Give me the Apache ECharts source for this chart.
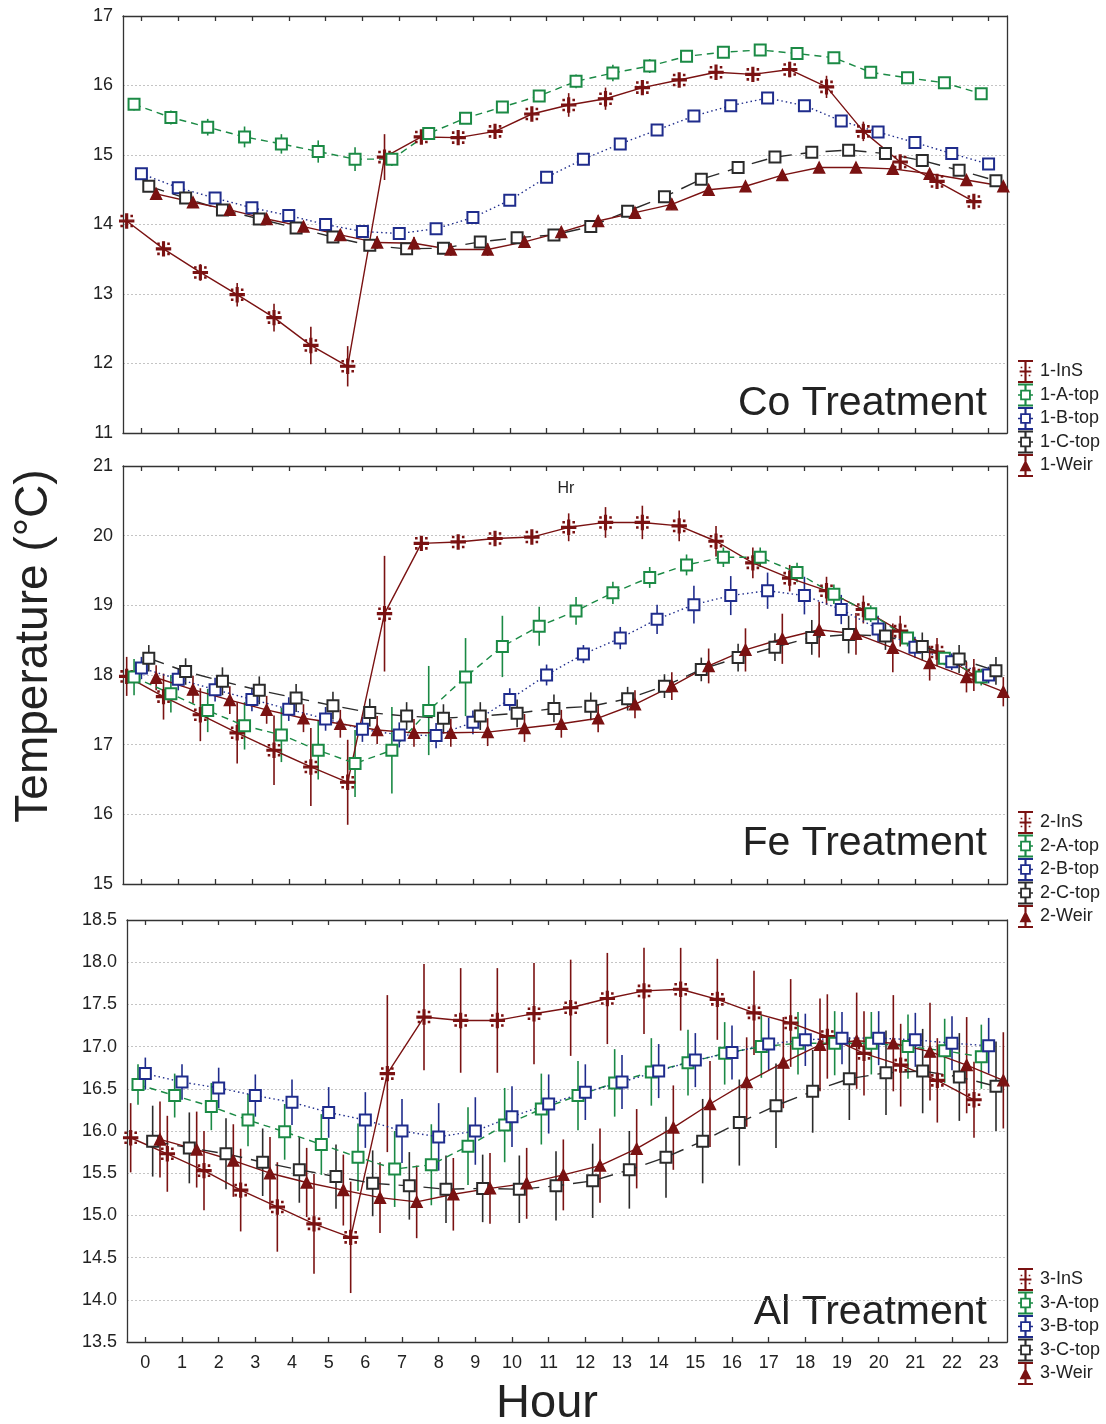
<!DOCTYPE html>
<html><head><meta charset="utf-8">
<script src="https://cdn.jsdelivr.net/npm/echarts@6/dist/echarts.min.js"></script>
<style>html,body{margin:0;padding:0;background:#fff}#c{width:1106px;height:1424px}</style>
</head><body><div id="c"></div>
<script>
const hours = [0,1,2,3,4,5,6,7,8,9,10,11,12,13,14,15,16,17,18,19,20,21,22,23];

// Panel 1 - Co Treatment
const ins1 = [14.05,13.65,13.31,12.99,12.66,12.26,11.96,14.97,15.26,15.25,15.34,15.59,15.72,15.81,15.97,16.08,16.19,16.16,16.23,15.98,15.34,14.90,14.62,14.33];
const ins1Err = [0.07,0.10,0.12,0.17,0.20,0.27,0.29,0.33,0.06,0.06,0.06,0.08,0.17,0.16,0.08,0.07,0.06,0.06,0.11,0.16,0.14,0.08,0.08,0.09];
const a1 = [15.73,15.54,15.40,15.26,15.16,15.05,14.94,14.94,15.31,15.53,15.69,15.85,16.06,16.18,16.28,16.42,16.48,16.51,16.46,16.40,16.19,16.11,16.04,15.88];
const a1Err = [0.09,0.10,0.12,0.15,0.14,0.16,0.17,0.10,0.07,0.05,0.04,0.05,0.10,0.12,0.10,0.05,0.04,0.04,0.06,0.07,0.07,0.06,0.05,0.04];
const b1 = [14.73,14.53,14.38,14.24,14.13,14.00,13.90,13.87,13.94,14.10,14.35,14.68,14.94,15.16,15.36,15.56,15.71,15.82,15.71,15.49,15.33,15.18,15.02,14.87];
const b1Err = [0.06,0.06,0.07,0.07,0.07,0.07,0.07,0.07,0.07,0.06,0.06,0.07,0.05,0.06,0.06,0.06,0.05,0.05,0.04,0.04,0.04,0.04,0.04,0.04];
const c1 = [14.55,14.38,14.21,14.08,13.95,13.82,13.70,13.65,13.66,13.75,13.81,13.85,13.97,14.19,14.40,14.65,14.82,14.97,15.04,15.07,15.02,14.92,14.78,14.63];
const c1Err = [0.06,0.06,0.06,0.06,0.06,0.06,0.07,0.07,0.07,0.07,0.07,0.08,0.08,0.08,0.08,0.06,0.05,0.05,0.05,0.05,0.05,0.05,0.05,0.05];
const w1 = [14.44,14.32,14.21,14.08,13.97,13.85,13.74,13.73,13.64,13.64,13.75,13.89,14.05,14.17,14.29,14.50,14.55,14.71,14.82,14.82,14.80,14.73,14.64,14.55];
const w1Err = [0.05,0.05,0.06,0.06,0.07,0.08,0.09,0.09,0.09,0.09,0.08,0.08,0.08,0.08,0.08,0.07,0.06,0.06,0.05,0.05,0.05,0.05,0.05,0.05];

// Panel 2 - Fe Treatment
const ins2 = [17.98,17.69,17.43,17.17,16.92,16.68,16.46,18.88,19.89,19.91,19.96,19.98,20.12,20.19,20.19,20.14,19.92,19.61,19.39,19.21,18.94,18.63,18.33,18.00];
const ins2Err = [0.28,0.33,0.38,0.44,0.50,0.56,0.61,0.83,0.03,0.04,0.05,0.07,0.20,0.22,0.24,0.22,0.22,0.22,0.19,0.20,0.20,0.22,0.20,0.23];
const a2 = [17.97,17.73,17.49,17.27,17.14,16.92,16.73,16.92,17.49,17.97,18.41,18.70,18.92,19.18,19.40,19.58,19.69,19.69,19.47,19.16,18.88,18.53,18.24,17.97];
const a2Err = [0.26,0.27,0.31,0.34,0.39,0.42,0.48,0.62,0.64,0.56,0.44,0.28,0.20,0.16,0.15,0.15,0.14,0.14,0.14,0.14,0.12,0.12,0.10,0.12];
const b2 = [18.10,17.94,17.79,17.65,17.51,17.37,17.22,17.14,17.13,17.32,17.65,18.00,18.30,18.53,18.80,19.01,19.14,19.21,19.14,18.94,18.66,18.40,18.19,18.00];
const b2Err = [0.16,0.16,0.17,0.17,0.17,0.17,0.18,0.18,0.18,0.17,0.16,0.15,0.13,0.16,0.21,0.27,0.28,0.26,0.27,0.21,0.19,0.15,0.12,0.12];
const c2 = [18.24,18.05,17.91,17.78,17.67,17.56,17.46,17.41,17.38,17.41,17.45,17.52,17.55,17.66,17.84,18.08,18.25,18.40,18.54,18.58,18.56,18.41,18.23,18.06];
const c2Err = [0.19,0.19,0.20,0.20,0.20,0.20,0.20,0.20,0.20,0.20,0.20,0.20,0.20,0.17,0.17,0.17,0.20,0.20,0.25,0.27,0.20,0.20,0.20,0.20];
const w2 = [17.96,17.79,17.64,17.50,17.38,17.30,17.21,17.17,17.17,17.18,17.24,17.30,17.38,17.58,17.84,18.13,18.36,18.52,18.65,18.59,18.39,18.17,17.97,17.76];
const w2Err = [0.18,0.20,0.20,0.20,0.20,0.20,0.20,0.20,0.20,0.20,0.20,0.20,0.20,0.20,0.20,0.25,0.31,0.36,0.40,0.30,0.35,0.25,0.22,0.21];

// Panel 3 - Al Treatment
const ins3 = [15.92,15.73,15.53,15.30,15.10,14.90,14.74,16.68,17.35,17.31,17.31,17.39,17.46,17.57,17.66,17.68,17.56,17.40,17.28,17.12,16.92,16.78,16.60,16.37];
const ins3Err = [0.41,0.45,0.47,0.49,0.53,0.59,0.66,0.93,0.63,0.62,0.62,0.60,0.57,0.54,0.51,0.49,0.48,0.50,0.52,0.50,0.50,0.49,0.50,0.45];
const a3 = [16.55,16.42,16.29,16.13,15.99,15.84,15.69,15.55,15.60,15.82,16.07,16.26,16.42,16.57,16.70,16.81,16.92,17.00,17.04,17.04,17.04,17.00,16.95,16.88];
const a3Err = [0.24,0.26,0.28,0.31,0.33,0.36,0.40,0.45,0.48,0.46,0.44,0.42,0.41,0.40,0.40,0.39,0.37,0.37,0.37,0.38,0.37,0.38,0.38,0.38];
const b3 = [16.68,16.58,16.51,16.42,16.34,16.22,16.13,16.00,15.93,16.00,16.17,16.32,16.46,16.58,16.71,16.84,16.93,17.03,17.08,17.10,17.10,17.08,17.04,17.01];
const b3Err = [0.19,0.21,0.24,0.25,0.27,0.30,0.33,0.38,0.40,0.40,0.36,0.35,0.33,0.32,0.32,0.32,0.32,0.31,0.31,0.31,0.32,0.32,0.32,0.33];
const c3 = [15.88,15.80,15.73,15.63,15.54,15.46,15.38,15.35,15.31,15.32,15.31,15.35,15.41,15.54,15.69,15.88,16.10,16.30,16.47,16.62,16.69,16.71,16.64,16.53];
const c3Err = [0.42,0.42,0.42,0.40,0.39,0.38,0.39,0.40,0.40,0.40,0.40,0.41,0.44,0.46,0.48,0.50,0.51,0.50,0.49,0.49,0.50,0.50,0.52,0.53];
const w3 = [15.90,15.78,15.65,15.50,15.39,15.30,15.21,15.16,15.25,15.32,15.38,15.48,15.59,15.79,16.04,16.32,16.58,16.81,17.02,17.07,17.04,16.94,16.78,16.60];
const w3Err = [0.45,0.45,0.43,0.43,0.41,0.42,0.42,0.43,0.43,0.42,0.42,0.42,0.44,0.47,0.50,0.51,0.53,0.54,0.55,0.57,0.57,0.58,0.57,0.57];

const seriesKeys = ['InS','A-top','B-top','C-top','Weir'];
const panelTitles = ['Co Treatment','Fe Treatment','Al Treatment'];

// ---------- styling / layout ----------
const FONT = 'Liberation Sans, Arial, sans-serif';
const RED = '#7a1212', GREEN = '#1b8a45', BLUE = '#1f2c8c', BLACK = '#2b2b2b';
const insSym = 'path://M5.25,0L6.75,0L6.75,5.25L12,5.25L12,6.75L6.75,6.75L6.75,12L5.25,12L5.25,6.75L0,6.75L0,5.25L5.25,5.25Z M1.2,1.2L2.2,1.2L2.2,2.2L1.2,2.2Z M9.8,1.2L10.8,1.2L10.8,2.2L9.8,2.2Z M1.2,9.8L2.2,9.8L2.2,10.8L1.2,10.8Z M9.8,9.8L10.8,9.8L10.8,10.8L9.8,10.8Z';
const styles = {
  'InS':   {color: RED,   offset: -0.4, symbol: insSym,      size: 14, dash: 'solid'},
  'A-top': {color: GREEN, offset: -0.2, symbol: 'emptyRect', size: 11, dash: [7,5]},
  'B-top': {color: BLUE,  offset: 0,    symbol: 'emptyRect', size: 11, dash: [1.5,3]},
  'C-top': {color: BLACK, offset: 0.2,  symbol: 'emptyRect', size: 11, dash: [16,9]},
  'Weir':  {color: RED,   offset: 0.4,  symbol: 'triangle',  size: 11, dash: 'solid'}
};
// legend icons: error-bar "I" with the marker in the middle (box 14 x 22)
const capsStem = 'M0,0L14,0L14,2L0,2Z M0,20L14,20L14,22L0,22Z ';
const legendIcons = {
  'InS':   'path://' + capsStem + 'M6,2L8,2L8,20L6,20Z M1.5,10L12.5,10L12.5,12L1.5,12Z M2.5,6.5L4,6.5L4,8L2.5,8Z M10,6.5L11.5,6.5L11.5,8L10,8Z M2.5,14L4,14L4,15.5L2.5,15.5Z M10,14L11.5,14L11.5,15.5L10,15.5Z',
  'A-top': 'path://' + capsStem + 'M6,2L8,2L8,6L6,6Z M6,16L8,16L8,20L6,20Z M2,6L12,6L12,16L2,16Z M3.7,7.7L3.7,14.3L10.3,14.3L10.3,7.7Z M0,10.3L2,10.3L2,11.7L0,11.7Z M12,10.3L14,10.3L14,11.7L12,11.7Z',
  'Weir':  'path://' + capsStem + 'M6,2L8,2L8,20L6,20Z M7,5.5L12.5,16.5L1.5,16.5Z'
};
legendIcons['B-top'] = legendIcons['A-top'];
legendIcons['C-top'] = legendIcons['A-top'];

const panelData = [
  {'InS':[ins1,ins1Err],'A-top':[a1,a1Err],'B-top':[b1,b1Err],'C-top':[c1,c1Err],'Weir':[w1,w1Err]},
  {'InS':[ins2,ins2Err],'A-top':[a2,a2Err],'B-top':[b2,b2Err],'C-top':[c2,c2Err],'Weir':[w2,w2Err]},
  {'InS':[ins3,ins3Err],'A-top':[a3,a3Err],'B-top':[b3,b3Err],'C-top':[c3,c3Err],'Weir':[w3,w3Err]}
];
const layout = [
  {grid:{left:123, top:16,  width:884, height:417}, yMin:11,   yMax:17,   yInt:1,   dec:0, titleY:404,  legendTop:355},
  {grid:{left:123, top:466, width:884, height:418}, yMin:15,   yMax:21,   yInt:1,   dec:0, titleY:844,  legendTop:806},
  {grid:{left:127, top:920, width:880, height:422}, yMin:13.5, yMax:18.5, yInt:0.5, dec:1, titleY:1313, legendTop:1263}
];

const grids = [], xAxes = [], yAxes = [], series = [], legends = [];
const axisLineStyle = {color:'#333', width:1.3};
layout.forEach((L, p) => {
  grids.push(L.grid);
  const isLast = p === 2;
  xAxes.push({
    type:'value', gridIndex:p, min:-0.5, max:23.5, position:'bottom',
    axisLine:{show:true, onZero:false, lineStyle:axisLineStyle},
    axisTick:{show:true, inside:true, length:5, customValues:hours, lineStyle:axisLineStyle},
    axisLabel:{show:isLast, customValues:hours, margin:12, fontSize:18, color:'#222', fontFamily:FONT},
    splitLine:{show:false}
  });
  xAxes.push({
    type:'value', gridIndex:p, min:-0.5, max:23.5, position:'top',
    axisLine:{show:true, onZero:false, lineStyle:axisLineStyle},
    axisTick:{show:true, inside:true, length:5, customValues:hours, lineStyle:axisLineStyle},
    axisLabel:{show:false}, splitLine:{show:false}
  });
  yAxes.push({
    type:'value', gridIndex:p, min:L.yMin, max:L.yMax, interval:L.yInt, position:'left',
    axisLine:{show:true, onZero:false, lineStyle:axisLineStyle},
    axisTick:{show:false},
    axisLabel:{margin:10, fontSize:18, color:'#222', fontFamily:FONT, formatter: v => v.toFixed(L.dec)},
    splitLine:{show:true, lineStyle:{color:'#c4c4c4', type:[2,2], width:1}}
  });
  yAxes.push({
    type:'value', gridIndex:p, min:L.yMin, max:L.yMax, interval:L.yInt, position:'right',
    axisLine:{show:true, onZero:false, lineStyle:axisLineStyle},
    axisTick:{show:false}, axisLabel:{show:false}, splitLine:{show:false}
  });
  const legendData = [];
  seriesKeys.forEach(k => {
    const st = styles[k];
    const [vals, errs] = panelData[p][k];
    const name = (p+1) + '-' + k;
    const pts = hours.map((h,i) => [h + st.offset, vals[i]]);
    const ebs = hours.map((h,i) => [h + st.offset, vals[i], errs[i]]);
    series.push({
      type:'custom', xAxisIndex:p*2, yAxisIndex:p*2, z:2, silent:true,
      data: ebs, encode:{x:0, y:1},
      renderItem: (params, api) => {
        const x = api.value(0), y = api.value(1), e = api.value(2);
        const q1 = api.coord([x, y - e]), q2 = api.coord([x, y + e]);
        return {type:'line', shape:{x1:q1[0], y1:q1[1], x2:q2[0], y2:q2[1]},
                style:{stroke:st.color, lineWidth:1.6}};
      }
    });
    series.push({
      type:'line', name, xAxisIndex:p*2, yAxisIndex:p*2, z:3,
      data: pts, symbol: st.symbol, symbolSize: st.size, showAllSymbol:true,
      lineStyle:{color:st.color, width:1.4, type:st.dash},
      itemStyle:{color:st.color, borderColor:st.color, borderWidth:1.4},
      emphasis:{disabled:true}
    });
    legendData.push({name, icon: legendIcons[k], itemStyle:{color:st.color, borderWidth:0}});
  });
  legends.push({
    orient:'vertical', left:1013, top:L.legendTop, itemWidth:15, itemHeight:23, itemGap:0.5,
    symbolKeepAspect:false,
    selectedMode:false, data:legendData,
    textStyle:{fontSize:18, color:'#222', fontFamily:FONT, padding:[0,0,0,2]}
  });
});

const graphics = [];
layout.forEach((L, p) => {
  graphics.push({type:'text', x:987, y:L.titleY, style:{text:panelTitles[p], font:'41px ' + FONT, fill:'#222', align:'right', verticalAlign:'middle'}});
});
graphics.push({type:'text', x:566, y:489, style:{text:'Hr', font:'16px ' + FONT, fill:'#222', align:'center', verticalAlign:'middle'}});
graphics.push({type:'text', x:34, y:646, rotation:Math.PI/2, style:{text:'Temperature (°C)', font:'46px ' + FONT, fill:'#222', align:'center', verticalAlign:'middle'}});
graphics.push({type:'text', x:547, y:1404, style:{text:'Hour', font:'47px ' + FONT, fill:'#222', align:'center', verticalAlign:'middle'}});

const chart = echarts.init(document.getElementById('c'), null, {renderer:'canvas'});
chart.setOption({
  animation:false, backgroundColor:'#fff',
  grid:grids, xAxis:xAxes, yAxis:yAxes, series, legend:legends, graphic:graphics
});
</script></body></html>
